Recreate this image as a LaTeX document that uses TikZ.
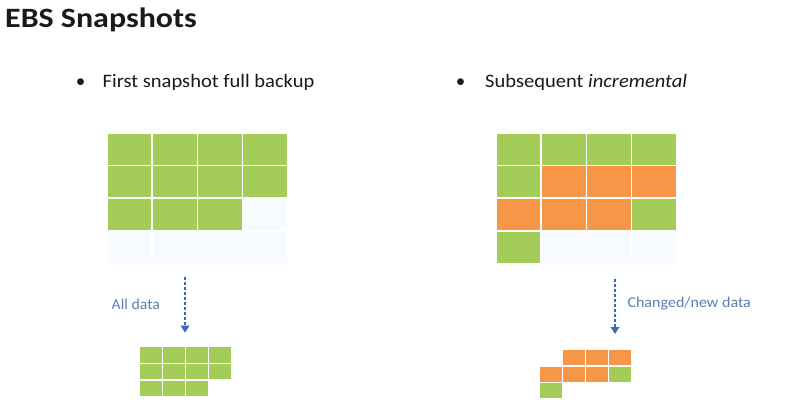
\documentclass[tikz,border=0pt]{standalone}
\usepackage{fontspec}
\setmainfont{Carlito}
\usetikzlibrary{arrows.meta}
\definecolor{cgreen}{HTML}{A3CC58}
\definecolor{corange}{HTML}{F79646}
\definecolor{cempty}{HTML}{F7FAFE}
\definecolor{clabel}{HTML}{5B80B0}
\definecolor{carrow}{HTML}{3D6BB2}
\definecolor{ctext}{HTML}{1A1A1A}
\tikzset{
  G/.style={fill=cgreen},
  O/.style={fill=corange},
  E/.style={fill=cempty},
  cellline/.style={draw=white,line width=1.4pt},
  titletext/.style={anchor=base west,inner sep=0pt,text=ctext,font=\fontsize{28}{30}\selectfont\bfseries},
  bullettext/.style={anchor=base west,inner sep=0pt,text=ctext,font=\fontsize{19}{22}\selectfont},
  bulletdot/.style={anchor=base,inner sep=0pt,text=ctext,font=\fontsize{19}{22}\selectfont},
  labeltext/.style={anchor=base west,inner sep=0pt,text=clabel,font=\fontsize{15}{18}\selectfont},
  dotarrow/.style={draw=carrow,line width=2.6pt,dash pattern=on 2.5pt off 2.5pt,-{Triangle[width=8.5pt,length=7pt]}}
}
\newcommand{\mygrid}[5]{%
  \foreach \c/\r/\s in {#5}{%
    \path[cellline,\s] ({#1+\c*#3},{#2+\r*#4}) rectangle ({#1+(\c+1)*#3},{#2+(\r+1)*#4});
  }%
}
\begin{document}
\begin{tikzpicture}[x=1pt,y=-1pt]
\useasboundingbox (0,0) rectangle (800,406);
\fill[white] (0,0) rectangle (800,406);

% texts
\node[titletext] (title) at (5,27.3) {\scalebox{1.14}[1]{EBS Snapshots}};
\node[bulletdot] (b1) at (80.7,87.3) {•};
\node[bullettext] (t1) at (102.5,87.3) {\scalebox{1.08}[1]{First snapshot full backup}};
\node[bulletdot] (b2) at (460.7,87.3) {•};
\node[bullettext] (t2) at (485,87.3) {\scalebox{1.08}[1]{Subsequent \textit{incremental}}};

% left main grid
\mygrid{107}{133}{45.1}{32.6}{0/0/G,1/0/G,2/0/G,3/0/G,
  0/1/G,1/1/G,2/1/G,3/1/G,
  0/2/G,1/2/G,2/2/G,3/2/E,
  0/3/E,1/3/E,2/3/E,3/3/E}

% right main grid
\mygrid{496}{133}{45.1}{32.6}{0/0/G,1/0/G,2/0/G,3/0/G,
  0/1/G,1/1/O,2/1/O,3/1/O,
  0/2/O,1/2/O,2/2/O,3/2/G,
  0/3/G,1/3/E,2/3/E,3/3/E}

% small left grid
\mygrid{139.3}{346.7}{23.1}{16.7}{0/0/G,1/0/G,2/0/G,3/0/G,
  0/1/G,1/1/G,2/1/G,3/1/G,
  0/2/G,1/2/G,2/2/G}

% small right grid
\mygrid{539.3}{349.3}{23.1}{16.6}{1/0/O,2/0/O,3/0/O,
  0/1/O,1/1/O,2/1/O,3/1/G,
  0/2/G}

% arrows
\coordinate (a1s) at (185,277.3);
\coordinate (a1e) at (185,332.7);
\coordinate (a2s) at (615,279);
\coordinate (a2e) at (615,334);
\draw[dotarrow] (a1s) -- (a1e);
\draw[dotarrow] (a2s) -- (a2e);

\node[labeltext] (l1) at (111.5,309.3) {\scalebox{1.05}[1]{All data}};
\node[labeltext] (l2) at (627.3,307.3) {\scalebox{1.07}[1]{Changed/new data}};
\end{tikzpicture}
\end{document}
